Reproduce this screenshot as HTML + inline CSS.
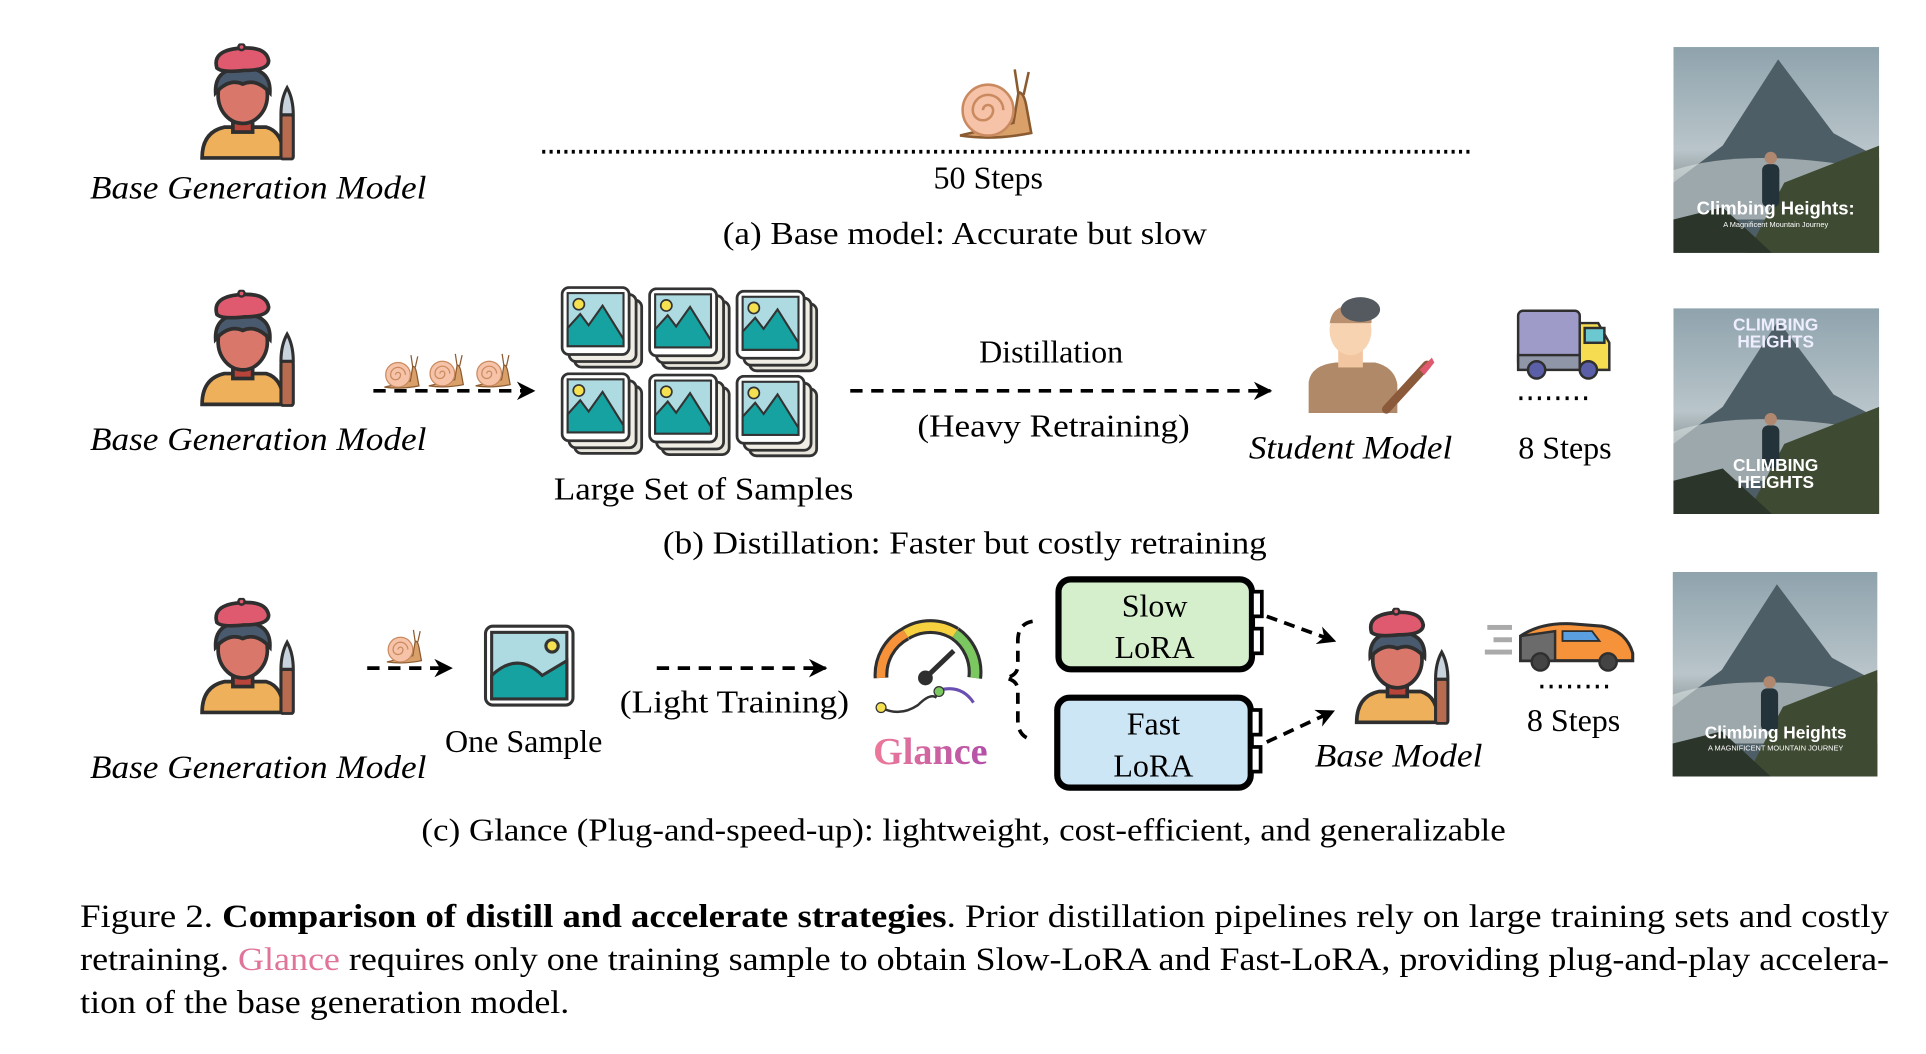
<!DOCTYPE html>
<html><head><meta charset="utf-8"><style>html,body{margin:0;padding:0;background:#fff}svg{display:block}svg text{font-family:"Liberation Serif","Times New Roman",serif}svg text.sans{font-family:"Liberation Sans",Arial,sans-serif}</style></head>
<body>
<svg width="1926" height="1054" viewBox="0 0 1563 855" xmlns="http://www.w3.org/2000/svg">
<defs>
<symbol id="artist" viewBox="0 0 84 95">
  <path d="M6 93 Q6 72 24 68 L58 68 Q72 72 72 93 Z" fill="#eeb05a" stroke="#2f2f2f" stroke-width="3"/>
  <rect x="31" y="58" width="16" height="14" fill="#b8443a" stroke="#2f2f2f" stroke-width="3"/>
  <ellipse cx="39" cy="42" rx="20" ry="23" fill="#d9786a" stroke="#2f2f2f" stroke-width="3"/>
  <path d="M17 40 Q16 20 39 20 Q62 20 61 40 Q50 28 39 33 Q28 28 17 40Z" fill="#4a5a6e" stroke="#2f2f2f" stroke-width="3"/>
  <path d="M18 20 Q14 6 36 4 Q58 2 60 14 Q60 22 40 22 Q22 24 18 20Z" fill="#e05a6f" stroke="#2f2f2f" stroke-width="3"/>
  <circle cx="38" cy="3" r="2.5" fill="#e05a6f" stroke="#2f2f2f" stroke-width="2"/>
  <rect x="70" y="58" width="10" height="36" rx="2" fill="#b86b4e" stroke="#2f2f2f" stroke-width="2.5"/>
  <path d="M70 58 Q70 45 75 36 Q80 45 80 58Z" fill="#c9d3dd" stroke="#2f2f2f" stroke-width="2.5"/>
</symbol>
<symbol id="snail" viewBox="0 0 64 64">
  <path d="M4 58 Q30 62 60 56 L56 34 Q54 24 50 24 L46 48 Z" fill="#d9a06a" stroke="#8a5a30" stroke-width="2"/>
  <circle cx="26" cy="38" r="20" fill="#f6c3a8" stroke="#c98a60" stroke-width="2"/>
  <path d="M26 38 m-4 0 a4 4 0 1 1 8 0 a8 8 0 1 1 -16 0 a12 12 0 1 1 24 0" fill="none" stroke="#c98a60" stroke-width="2"/>
  <line x1="50" y1="26" x2="47" y2="6" stroke="#8a5a30" stroke-width="2"/>
  <line x1="54" y1="26" x2="58" y2="8" stroke="#8a5a30" stroke-width="2"/>
</symbol>
<symbol id="pic" viewBox="0 0 60 60">
  <rect x="10" y="10" width="48" height="48" rx="5" fill="#e8e6dc" stroke="#333" stroke-width="2"/>
  <rect x="6" y="6" width="48" height="48" rx="5" fill="#efede4" stroke="#333" stroke-width="2"/>
  <rect x="1" y="1" width="48" height="48" rx="5" fill="#fff" stroke="#333" stroke-width="2"/>
  <rect x="5" y="5" width="40" height="38" fill="#aedbe2" stroke="#333" stroke-width="1.5"/>
  <path d="M5 43 L5 30 L14 20 L20 28 L30 14 L45 38 L45 43Z" fill="#16a2a0" stroke="#333" stroke-width="1.5"/>
  <circle cx="13" cy="13" r="4" fill="#f5e050" stroke="#333" stroke-width="1.2"/>
</symbol>
<linearGradient id="sky" x1="0" y1="0" x2="0" y2="1"><stop offset="0" stop-color="#8fa3ad"/><stop offset="0.5" stop-color="#b9c5ca"/><stop offset="1" stop-color="#2e3a32"/></linearGradient>
<symbol id="mtn" viewBox="0 0 167 167">
  <rect width="167" height="167" fill="url(#sky)"/>
  <path d="M0 110 L40 80 L85 10 L130 70 L167 90 L167 167 L0 167Z" fill="#4e5e66"/>
  <path d="M0 100 Q60 80 167 100 L167 140 L0 140Z" fill="#dfe5e6" opacity="0.55"/>
  <path d="M60 167 L90 110 L167 80 L167 167Z" fill="#3e4a32"/>
  <path d="M0 140 L40 130 L80 167 L0 167Z" fill="#2c352a"/>
  <rect x="72" y="95" width="14" height="35" rx="5" fill="#24323a"/>
  <circle cx="79" cy="90" r="5" fill="#b08870"/>
</symbol>
<linearGradient id="gl" x1="0" y1="0" x2="1" y2="0"><stop offset="0" stop-color="#ee7a9a"/><stop offset="1" stop-color="#b24fa8"/></linearGradient>
<marker id="ah" viewBox="0 0 10 10" refX="9" refY="5" markerWidth="5" markerHeight="5" orient="auto"><path d="M0 0 L10 5 L0 10 L3 5Z" fill="#000"/></marker>
</defs>

<!-- Row a -->
<use href="#artist" x="158" y="35" width="84" height="95"/>
<text x="73" y="161" font-size="27" font-style="italic" textLength="273" lengthAdjust="spacingAndGlyphs">Base Generation Model</text>
<use href="#snail" x="775" y="50" width="66" height="66"/>
<line x1="440" y1="123" x2="1195" y2="123" stroke="#000" stroke-width="3" stroke-dasharray="2.5,3.5"/>
<text x="802" y="153" font-size="26" text-anchor="middle">50 Steps</text>
<text x="783" y="198" font-size="26" text-anchor="middle" textLength="393" lengthAdjust="spacingAndGlyphs">(a) Base model: Accurate but slow</text>
<use href="#mtn" x="1358" y="38" width="167" height="167"/>
<text class="sans" x="1441" y="174" font-weight="bold" font-size="15" fill="#fff" text-anchor="middle">Climbing Heights:</text>
<text class="sans" x="1441" y="184" font-size="6" fill="#fff" text-anchor="middle">A Magnificent Mountain Journey</text>

<!-- Row b -->
<use href="#artist" x="158" y="235" width="84" height="95"/>
<text x="73" y="365" font-size="27" font-style="italic" textLength="273" lengthAdjust="spacingAndGlyphs">Base Generation Model</text>
<use href="#snail" x="310" y="285" width="32" height="32"/>
<use href="#snail" x="346" y="284" width="32" height="32"/>
<use href="#snail" x="384" y="284" width="32" height="32"/>
<line x1="303" y1="317" x2="433" y2="317" stroke="#000" stroke-width="3" stroke-dasharray="10,7" marker-end="url(#ah)"/>
<use href="#pic" x="455" y="232" width="68" height="68"/>
<use href="#pic" x="526" y="233" width="68" height="68"/>
<use href="#pic" x="596" y="235" width="70" height="68"/>
<use href="#pic" x="455" y="302" width="68" height="68"/>
<use href="#pic" x="526" y="303" width="68" height="68"/>
<use href="#pic" x="596" y="304" width="70" height="68"/>
<text x="571" y="405" font-size="26" text-anchor="middle" textLength="243" lengthAdjust="spacingAndGlyphs">Large Set of Samples</text>
<line x1="690" y1="317" x2="1031" y2="317" stroke="#000" stroke-width="3" stroke-dasharray="10,7" marker-end="url(#ah)"/>
<text x="853" y="294" font-size="26" text-anchor="middle">Distillation</text>
<text x="855" y="354" font-size="26" text-anchor="middle" textLength="221" lengthAdjust="spacingAndGlyphs">(Heavy Retraining)</text>
<g>
  <path d="M1062 335 L1062 310 Q1064 296 1084 294 L1116 294 Q1132 298 1134 312 L1134 335Z" fill="#b08a68"/>
  <rect x="1086" y="282" width="20" height="16" fill="#f2c6a0"/>
  <ellipse cx="1096" cy="268" rx="17" ry="20" fill="#f7d3b2"/>
  <path d="M1079 268 Q1078 248 1096 248 Q1114 248 1113 262 L1079 262Z" fill="#b89070"/>
  <ellipse cx="1104" cy="251" rx="16" ry="10" fill="#555a60"/>
  <line x1="1125" y1="332" x2="1158" y2="296" stroke="#8b5a3a" stroke-width="7" stroke-linecap="round"/>
  <path d="M1152 300 L1162 290 L1164 294 L1156 304Z" fill="#e05a6f"/>
</g>
<text x="1096" y="372" font-size="27" font-style="italic" text-anchor="middle" textLength="165" lengthAdjust="spacingAndGlyphs">Student Model</text>
<g stroke="#2f2f2f" stroke-width="2">
  <rect x="1232" y="252" width="50" height="46" rx="4" fill="#9e9bc8"/>
  <path d="M1282 262 L1297 262 L1306 278 L1306 300 L1282 300Z" fill="#f5dc50"/>
  <rect x="1286" y="266" width="16" height="12" fill="#6cc8d0"/>
  <rect x="1232" y="288" width="50" height="12" fill="#8f96a8"/>
  <circle cx="1247" cy="300" r="7" fill="#5a5fa8"/>
  <circle cx="1289" cy="300" r="7" fill="#5a5fa8"/>
</g>
<line x1="1233" y1="323" x2="1293" y2="323" stroke="#000" stroke-width="3" stroke-dasharray="2.5,5"/>
<text x="1270" y="372" font-size="26" text-anchor="middle">8 Steps</text>
<use href="#mtn" x="1358" y="250" width="167" height="167"/>
<text class="sans" x="1441" y="268" font-weight="bold" font-size="14" fill="#eef" text-anchor="middle">CLIMBING</text>
<text class="sans" x="1441" y="282" font-weight="bold" font-size="14" fill="#eef" text-anchor="middle">HEIGHTS</text>
<text class="sans" x="1441" y="382" font-weight="bold" font-size="14" fill="#fff" text-anchor="middle">CLIMBING</text>
<text class="sans" x="1441" y="396" font-weight="bold" font-size="14" fill="#fff" text-anchor="middle">HEIGHTS</text>
<text x="783" y="449" font-size="26" text-anchor="middle" textLength="490" lengthAdjust="spacingAndGlyphs">(b) Distillation: Faster but costly retraining</text>

<!-- Row c -->
<use href="#artist" x="158" y="485" width="84" height="95"/>
<text x="73" y="631" font-size="27" font-style="italic" textLength="273" lengthAdjust="spacingAndGlyphs">Base Generation Model</text>
<use href="#snail" x="312" y="508" width="32" height="32"/>
<line x1="298" y1="542" x2="366" y2="542" stroke="#000" stroke-width="3" stroke-dasharray="10,7" marker-end="url(#ah)"/>
<g stroke="#333" stroke-width="2.5">
  <rect x="394" y="508" width="71" height="64" rx="6" fill="#fff"/>
  <rect x="399" y="513" width="61" height="54" fill="#aedbe2"/>
  <path d="M399 567 L399 548 Q420 528 440 548 L460 536 L460 567Z" fill="#16a2a0"/>
  <circle cx="448" cy="524" r="5" fill="#f5e050"/>
</g>
<text x="425" y="610" font-size="26" text-anchor="middle">One Sample</text>
<line x1="533" y1="542" x2="670" y2="542" stroke="#000" stroke-width="3" stroke-dasharray="10,7" marker-end="url(#ah)"/>
<text x="596" y="578" font-size="26" text-anchor="middle" textLength="186" lengthAdjust="spacingAndGlyphs">(Light Training)</text>
<g>
  <path d="M715 550 A38 38 0 0 1 735 514" fill="none" stroke="#2f2f2f" stroke-width="12"/>
  <path d="M715 550 A38 38 0 0 1 735 514" fill="none" stroke="#f5923a" stroke-width="7"/>
  <path d="M735 514 A38 38 0 0 1 775 514" fill="none" stroke="#2f2f2f" stroke-width="12"/>
  <path d="M735 514 A38 38 0 0 1 775 514" fill="none" stroke="#f7d040" stroke-width="7"/>
  <path d="M775 514 A38 38 0 0 1 791 550" fill="none" stroke="#2f2f2f" stroke-width="12"/>
  <path d="M775 514 A38 38 0 0 1 791 550" fill="none" stroke="#7cc860" stroke-width="7"/>
  <circle cx="751" cy="550" r="6" fill="#2f2f2f"/>
  <line x1="751" y1="550" x2="774" y2="528" stroke="#2f2f2f" stroke-width="4"/>
  <path d="M715 574 Q730 582 745 572 Q755 562 760 566" fill="none" stroke="#333" stroke-width="2"/>
  <path d="M762 560 Q780 555 790 570" fill="none" stroke="#6a4fb0" stroke-width="2.5"/>
  <circle cx="715" cy="574" r="4" fill="#f5e050" stroke="#333"/>
  <circle cx="762" cy="561" r="4" fill="#7cc860" stroke="#333"/>
</g>
<text x="755" y="620" font-size="31" font-weight="bold" fill="url(#gl)" text-anchor="middle">Glance</text>
<path d="M838 504 Q826 506 826 520 L826 540 Q826 548 816 550 Q826 552 826 560 L826 584 Q826 598 838 600" fill="none" stroke="#000" stroke-width="3" stroke-dasharray="9,6"/>
<rect x="859" y="470" width="157" height="73" rx="10" fill="#d5efcc" stroke="#000" stroke-width="5"/>
<rect x="1016" y="480" width="8" height="20" fill="#fff" stroke="#000" stroke-width="3"/>
<rect x="1016" y="510" width="8" height="20" fill="#fff" stroke="#000" stroke-width="3"/>
<text x="937" y="500" font-size="26" text-anchor="middle">Slow</text>
<text x="937" y="534" font-size="26" text-anchor="middle">LoRA</text>
<rect x="858" y="566" width="157" height="73" rx="10" fill="#cde6f5" stroke="#000" stroke-width="5"/>
<rect x="1015" y="576" width="8" height="20" fill="#fff" stroke="#000" stroke-width="3"/>
<rect x="1015" y="606" width="8" height="20" fill="#fff" stroke="#000" stroke-width="3"/>
<text x="936" y="596" font-size="26" text-anchor="middle">Fast</text>
<text x="936" y="630" font-size="26" text-anchor="middle">LoRA</text>
<line x1="1028" y1="500" x2="1083" y2="520" stroke="#000" stroke-width="3" stroke-dasharray="9,6" marker-end="url(#ah)"/>
<line x1="1028" y1="602" x2="1082" y2="577" stroke="#000" stroke-width="3" stroke-dasharray="9,6" marker-end="url(#ah)"/>
<use href="#artist" x="1095" y="493" width="84" height="95"/>
<text x="1135" y="622" font-size="27" font-style="italic" text-anchor="middle" textLength="136" lengthAdjust="spacingAndGlyphs">Base Model</text>
<g>
  <rect x="1207" y="507" width="20" height="4" fill="#aaa"/>
  <rect x="1212" y="517" width="15" height="4" fill="#aaa"/>
  <rect x="1205" y="527" width="22" height="4" fill="#aaa"/>
  <path d="M1234 536 L1234 516 Q1250 505 1275 506 L1300 508 Q1320 512 1325 530 L1325 536Z" fill="#f5923a" stroke="#2f2f2f" stroke-width="2.5"/>
  <path d="M1234 536 L1234 516 L1262 512 L1262 536Z" fill="#6b6b6b" stroke="#2f2f2f" stroke-width="2"/>
  <path d="M1268 512 L1292 512 L1298 520 L1268 520Z" fill="#5aa0e0" stroke="#2f2f2f" stroke-width="1.5"/>
  <circle cx="1250" cy="537" r="7" fill="#444" stroke="#2f2f2f" stroke-width="2"/>
  <circle cx="1305" cy="537" r="7" fill="#444" stroke="#2f2f2f" stroke-width="2"/>
</g>
<line x1="1250" y1="557" x2="1308" y2="557" stroke="#000" stroke-width="3" stroke-dasharray="2.5,5"/>
<text x="1277" y="593" font-size="26" text-anchor="middle">8 Steps</text>
<use href="#mtn" x="1357" y="464" width="167" height="166"/>
<text class="sans" x="1441" y="599" font-weight="bold" font-size="14" fill="#fff" text-anchor="middle">Climbing Heights</text>
<text class="sans" x="1441" y="609" font-size="6" fill="#fff" text-anchor="middle">A MAGNIFICENT MOUNTAIN JOURNEY</text>
<text x="782" y="682" font-size="26" text-anchor="middle" textLength="880" lengthAdjust="spacingAndGlyphs">(c) Glance (Plug-and-speed-up): lightweight, cost-efficient, and generalizable</text>

<text x="65" y="752" font-size="27" textLength="1468" lengthAdjust="spacingAndGlyphs">Figure 2.  <tspan font-weight="bold">Comparison of distill and accelerate strategies</tspan>.  Prior distillation pipelines rely on large training sets and costly</text>
<text x="65" y="787" font-size="27" textLength="1468" lengthAdjust="spacingAndGlyphs">retraining. <tspan fill="#e0749a">Glance</tspan> requires only one training sample to obtain Slow-LoRA and Fast-LoRA, providing plug-and-play accelera-</text>
<text x="65" y="822" font-size="27" textLength="397" lengthAdjust="spacingAndGlyphs">tion of the base generation model.</text>
</svg>
</body></html>
